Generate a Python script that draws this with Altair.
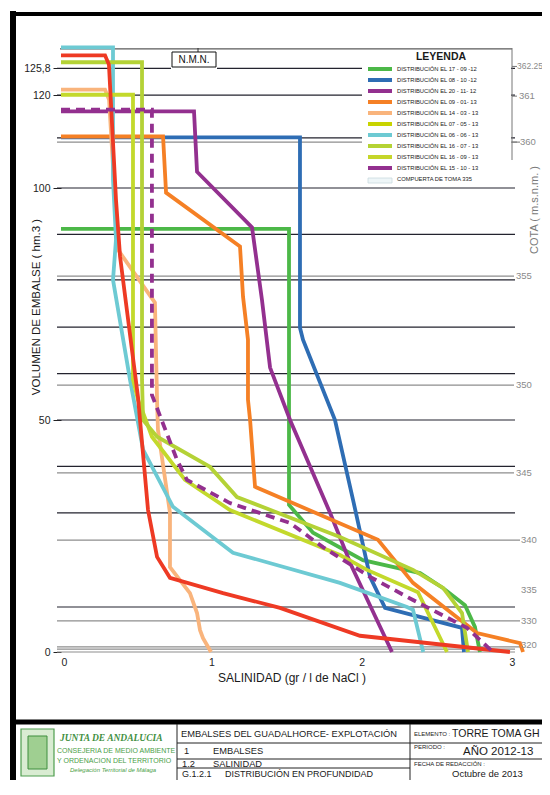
import altair as alt
import pandas as pd

FONT = "Liberation Sans"

# ---------------- data: salinity (gr/l NaCl) vs reservoir volume (hm3) ----------------
GREEN_SAL = [0, 1.517, 1.517, 1.677, 2.009, 2.389, 2.541, 2.688, 2.754, 2.787]
GREEN_VOL = [91.2, 91.2, 31.7, 25.7, 19.8, 17.0, 13.8, 10.1, 5.4, 0]

BLUE_SAL = [0, 1.59, 1.59, 1.61, 1.823, 1.943, 2.056, 2.156, 2.668, 2.681]
BLUE_VOL = [110.9, 110.9, 69.9, 67.3, 50.0, 32.8, 16.2, 9.5, 5.2, 0]

PURPLE_SAL = [0, 0.885, 0.905, 1.271, 1.337, 1.391, 1.524, 1.79, 1.936, 2.202]
PURPLE_VOL = [116.5, 116.5, 103.5, 91.5, 75.9, 61.3, 50.0, 30.0, 18.3, 0]

ORANGE_SAL = [0, 0.679, 0.699, 1.191, 1.211, 1.244, 1.244, 1.258, 1.291, 2.109, 2.342, 2.768, 3.054, 3.074]
ORANGE_VOL = [111.1, 111.1, 99.0, 87.4, 76.6, 67.3, 54.4, 50.0, 35.6, 24.2, 14.9, 4.1, 1.9, 0]

PEACH_SAL = [0, 0.293, 0.32, 0.379, 0.625, 0.639, 0.645, 0.725, 0.725, 0.858, 0.905, 0.925, 0.945, 0.998]
PEACH_VOL = [121.2, 121.2, 119.0, 86.7, 75.3, 54.4, 47.9, 30.0, 18.3, 12.7, 8.4, 4.7, 3.0, 0]

CYAN_SAL = [0, 0.346, 0.346, 0.366, 0.346, 0.459, 0.546, 0.745, 1.144, 1.856, 2.302, 2.342, 2.41]
CYAN_VOL = [130.3, 130.3, 101.8, 88.9, 80.2, 58.7, 43.6, 31.3, 21.4, 14.9, 9.7, 9.1, 0]

LIME_B_SAL = [0, 0.479, 0.479, 0.512, 0.546, 0.605, 0.825, 1.124, 1.856, 2.036, 2.375, 2.568]
LIME_B_VOL = [120.1, 120.1, 58.7, 54.4, 51.6, 46.4, 37.1, 30.6, 20.9, 17.7, 12.9, 0]

LIME_A_SAL = [0, 0.539, 0.539, 0.546, 0.639, 0.991, 1.171, 1.856, 2.342, 2.542, 2.668, 2.708]
LIME_A_VOL = [127.1, 127.1, 58.7, 50.0, 46.4, 39.9, 33.4, 24.8, 17.7, 13.8, 8.4, 0]

RED_SAL = [0, 0.293, 0.319, 0.366, 0.393, 0.512, 0.579, 0.639, 0.725, 1.078, 1.457, 1.989, 2.189, 2.987]
RED_VOL = [128.6, 128.6, 126.6, 97.4, 85.2, 55.0, 30.6, 20.5, 16.0, 12.7, 9.5, 3.5, 2.8, 0]

PDASH_SAL = [0, 0.605, 0.605, 0.772, 0.838, 1.124, 1.524, 1.743, 2.056, 2.342, 2.701, 2.874]
PDASH_VOL = [116.9, 116.9, 55.4, 41.4, 37.1, 32.1, 27.8, 22.6, 16.2, 11.2, 5.2, 0]

SOLID_SERIES = [
    ("green", "#4cb848", GREEN_SAL, GREEN_VOL),
    ("blue", "#2e6db4", BLUE_SAL, BLUE_VOL),
    ("purple", "#93308f", PURPLE_SAL, PURPLE_VOL),
    ("orange", "#f58025", ORANGE_SAL, ORANGE_VOL),
    ("peach", "#f9b47c", PEACH_SAL, PEACH_VOL),
    ("cyan", "#6dcad3", CYAN_SAL, CYAN_VOL),
    ("lime_b", "#c3d92c", LIME_B_SAL, LIME_B_VOL),
    ("lime_a", "#b4d236", LIME_A_SAL, LIME_A_VOL),
    ("red", "#ee3a24", RED_SAL, RED_VOL),
]
DASH_SERIES = [("purple_dash", "#93308f", PDASH_SAL, PDASH_VOL)]

LEGEND_LABELS = [
    "DISTRIBUCIÓN EL 17 - 09 -12",
    "DISTRIBUCIÓN EL 08 - 10 -12",
    "DISTRIBUCIÓN EL 20 - 11- 12",
    "DISTRIBUCIÓN EL 09 - 01- 13",
    "DISTRIBUCIÓN EL 14 - 03 - 13",
    "DISTRIBUCIÓN EL 07 - 05 - 13",
    "DISTRIBUCIÓN EL 06 - 06 - 13",
    "DISTRIBUCIÓN EL 16 - 07 - 13",
    "DISTRIBUCIÓN EL 16 - 09 - 13",
    "DISTRIBUCIÓN EL 15 - 10 - 13",
    "COMPUERTA DE TOMA 335",
]
LEGEND_COLORS = ["#4cb848", "#2e6db4", "#93308f", "#f58025", "#f9b47c", "#c8d400",
                 "#6dcad3", "#b5d334", "#c5d62a", "#93308f", "#eef6f8"]

Y_TICKS = [0, 50, 100, 120, 125.8]
X_TICKS = [0, 1, 2, 3]

GRID_DARK_LEVELS = [125.8, 120.0, 110.8, 100, 90, 80.2, 70, 60, 50, 40, 30, 9.7]
GRID_TOP_LEVEL = 130.0
GRID_COTA_LEVELS = [109.9, 81.0, 57.5, 38.6, 24.1, 6.7, 1.1, 0.6, 0]
COTA_LABELS = ["362.25", "361", "360", "355", "350", "345", "340", "335", "330", "320"]
COTA_LEVELS = [126.2, 119.8, 109.9, 81.0, 57.5, 38.6, 24.1, 13.4, 6.7, 1.5]

# ---------------- page geometry ----------------
X0, KX = 61.0, 150.3     # page x of salinity 0, px per unit
Y0, KY = 652.0, 4.64     # page y of volume 0, px per unit
PLOT_W, PLOT_H = 463, 612
PAD = {"left": 53, "top": 32, "right": 18, "bottom": 128}


def sx(px):
    return (px - X0) / KX


def vy(py):
    return (Y0 - py) / KY


X_SCALE = alt.Scale(domain=[0, PLOT_W / KX], nice=False, zero=False)
Y_SCALE = alt.Scale(domain=[0, PLOT_H / KY], nice=False, zero=False)
X_AXIS = alt.Axis(values=X_TICKS, ticks=False, domain=False, grid=False, labelPadding=5,
                  labelFont=FONT, labelFontSize=10.5, labelColor="#222", title=None, format="d")
Y_AXIS = alt.Axis(values=Y_TICKS, tickSize=8, tickColor="#222", tickWidth=1, domain=False,
                  grid=False, labelPadding=3, labelFont=FONT, labelFontSize=10.5,
                  labelColor="#222", title=None,
                  labelExpr="datum.value == 125.8 ? '125,8' : format(datum.value, 'd')")


def X(f="x"):
    return alt.X(f + ":Q", scale=X_SCALE, axis=X_AXIS)


def Y(f="y"):
    return alt.Y(f + ":Q", scale=Y_SCALE, axis=Y_AXIS)


# ---------------- segments (grid, frame, title block) ----------------
def seg_rows(rows):
    return pd.DataFrame(rows, columns=["x", "y", "x2", "y2", "color", "w"])


def rule_layer(df):
    return alt.Chart(df).mark_rule(strokeCap="butt").encode(
        x=X(), y=Y(), x2="x2:Q", y2="y2:Q",
        color=alt.Color("color:N", scale=None),
        size=alt.Size("w:Q", scale=None),
    )


grid = []
grid.append((sx(60), GRID_TOP_LEVEL, sx(512), GRID_TOP_LEVEL, "#5a5a5a", 1.2))
for v in GRID_DARK_LEVELS:
    grid.append((sx(57), v, sx(515), v, "#23232e", 1.2))
cota_ends = {109.9: 520, 81.0: 514, 57.5: 514, 38.6: 514, 24.1: 520, 6.7: 520, 1.1: 520, 0.6: 515, 0: 515}
for v in GRID_COTA_LEVELS:
    grid.append((sx(57), v, sx(cota_ends[v]), v, "#8e8e8e", 1.2))
grid_df = seg_rows(grid)

# ---------------- data lines ----------------
def line_df(series):
    rows = []
    for key, col, sal, vol in series:
        for i, (s, v) in enumerate(zip(sal, vol)):
            rows.append({"key": key, "color": col, "i": i, "x": s, "y": v})
    return pd.DataFrame(rows)


solid = alt.Chart(line_df(SOLID_SERIES)).mark_line(strokeWidth=3.8, strokeCap="butt").encode(
    x=X(), y=Y(), detail="key:N", order="i:Q", color=alt.Color("color:N", scale=None))
dashed = alt.Chart(line_df(DASH_SERIES)).mark_line(strokeWidth=3.8, strokeDash=[9, 6], strokeCap="butt").encode(
    x=X(), y=Y(), detail="key:N", order="i:Q", color=alt.Color("color:N", scale=None))

# ---------------- rectangles ----------------
def rect_layer(rows):
    df = pd.DataFrame(rows, columns=["x", "y", "x2", "y2", "fill", "stroke", "sw"])
    return alt.Chart(df).mark_rect().encode(
        x=X(), y=Y(), x2="x2:Q", y2="y2:Q",
        fill=alt.Fill("fill:N", scale=None),
        stroke=alt.Stroke("stroke:N", scale=None),
        strokeWidth=alt.StrokeWidth("sw:Q", scale=None),
    )


masks = rect_layer([
    (sx(362), vy(50), sx(511), vy(186), "#ffffff", "#ffffff", 0),   # legend background
    (sx(171), vy(51), sx(217), vy(72), "#ffffff", "#ffffff", 0),    # N.M.N. mask
])
boxes = rect_layer([
    (sx(172), vy(52), sx(216), vy(67), "#ffffff", "#111111", 1),    # N.M.N. box
    (sx(368), vy(178), sx(392), vy(183), "#eef6f8", "#c9dade", 0.8),  # compuerta swatch
    (sx(21), vy(729), sx(54), vy(776), "#d9ecd2", "#4f9d4f", 1.2),   # emblem
    (sx(28), vy(736), sx(47), vy(769), "#9fcf91", "#3f8f3f", 1),
])

# legend swatches, right axis, small ticks
deco = []
for i, col in enumerate(LEGEND_COLORS[:-1]):
    yy = vy(69 + 11 * i)
    deco.append((sx(368), yy, sx(392), yy, col, 4))
deco.append((sx(512), vy(48), sx(512), vy(160), "#777777", 1))
for v in COTA_LEVELS[:3]:
    deco.append((sx(512), v, sx(517), v, "#777777", 1))
deco.append((sx(198), vy(48), sx(198), vy(52), "#333333", 1))
# page frame
deco.append((sx(13), vy(11), sx(13), vy(800), "#000000", 6))
deco.append((sx(10), vy(14), sx(560), vy(14), "#000000", 4))
deco.append((sx(10), vy(722), sx(560), vy(722), "#000000", 5))
# title block
deco.append((sx(177), vy(724), sx(177), vy(800), "#222222", 1))
deco.append((sx(410), vy(724), sx(410), vy(800), "#222222", 1))
deco.append((sx(177), vy(743), sx(560), vy(743), "#222222", 1))
deco.append((sx(177), vy(759), sx(560), vy(759), "#222222", 1))
deco.append((sx(177), vy(768), sx(410), vy(768), "#222222", 1))
deco_df = seg_rows(deco)

# ---------------- texts ----------------
def text_layer(rows, **mk):
    df = pd.DataFrame(rows, columns=["x", "y", "text", "size", "color"])
    opts = dict(font=FONT, baseline="middle", align="left")
    opts.update(mk)
    return alt.Chart(df).mark_text(**opts).encode(
        x=X(), y=Y(), text="text:N",
        size=alt.Size("size:Q", scale=None),
        color=alt.Color("color:N", scale=None),
    )


left_rows = []
for i, lab in enumerate(LEGEND_LABELS):
    left_rows.append((sx(397), vy(69 + 11 * i), lab, 5.8, "#222222"))
cota_x = {"362.25": 517, "361": 519, "360": 520, "355": 516, "350": 516, "345": 516,
          "340": 521, "335": 521, "330": 521, "320": 521}
for lab, v in zip(COTA_LABELS, COTA_LEVELS):
    left_rows.append((sx(cota_x[lab]), v, lab, 8.5 if lab == "362.25" else 9.5, "#8a8a8a"))
# title block
TB = [
    ("EMBALSES DEL GUADALHORCE- EXPLOTACIÓN", 181, 733.5, 9.3),
    ("1", 184, 751, 9.3), ("EMBALSES", 213, 751, 9.3),
    ("1.2", 182, 763.5, 9.3), ("SALINIDAD", 213, 763.5, 9.3),
    ("G.1.2.1", 182, 774, 9.0), ("DISTRIBUCIÓN EN PROFUNDIDAD", 225, 774, 9.0),
    ("ELEMENTO :", 414, 734, 6), ("TORRE TOMA GH", 452, 734, 10.5),
    ("PERIODO :", 414, 747, 6), ("AÑO 2012-13", 463, 752, 11.5),
    ("FECHA DE REDACCIÓN :", 414, 764, 6), ("Octubre  de 2013", 452, 773.5, 9.5),
]
for t, px, py, s in TB:
    left_rows.append((sx(px), vy(py), t, s, "#1a1a1a"))
left_rows.append((sx(57), vy(751), "CONSEJERIA DE MEDIO AMBIENTE", 7.0, "#4a9e46"))
left_rows.append((sx(57), vy(760.5), "Y ORDENACION DEL TERRITORIO", 7.0, "#4a9e46"))
texts_left = text_layer(left_rows)

texts_italic = text_layer([(sx(70), vy(770), "Delegación Territorial de Málaga", 6, "#4a9e46")],
                          fontStyle="italic")
texts_logo = text_layer([(sx(60), vy(738), "JUNTA DE ANDALUCIA", 9.5, "#3f8f3f")],
                        font="Liberation Serif", fontStyle="italic", fontWeight="bold")

texts_center = text_layer([
    (sx(194), vy(60), "N.M.N.", 10, "#111111"),
    (sx(292), vy(678), "SALINIDAD (gr / l de NaCl )", 12, "#1a1a1a"),
], align="center")
texts_bold = text_layer([(sx(441), vy(57), "LEYENDA", 10.5, "#1a1a1a")], align="center",
                        fontWeight="bold")
texts_rot = text_layer([
    (sx(37), vy(307), "VOLUMEN DE EMBALSE ( hm.3 )", 11.5, "#1a1a1a"),
    (sx(535), vy(210), "COTA ( m.s.n.m. )", 11, "#7a7a7a"),
], align="center", angle=270)

chart = alt.layer(
    rule_layer(grid_df),
    solid,
    dashed,
    masks,
    rule_layer(deco_df),
    boxes,
    texts_left,
    texts_italic,
    texts_logo,
    texts_center,
    texts_bold,
    texts_rot,
).properties(
    width=PLOT_W,
    height=PLOT_H,
    padding=PAD,
    autosize=alt.AutoSizeParams(type="none"),
    background="white",
).configure_view(stroke=None)

chart.save("out.html", embed_options={"renderer": "svg", "actions": False})
